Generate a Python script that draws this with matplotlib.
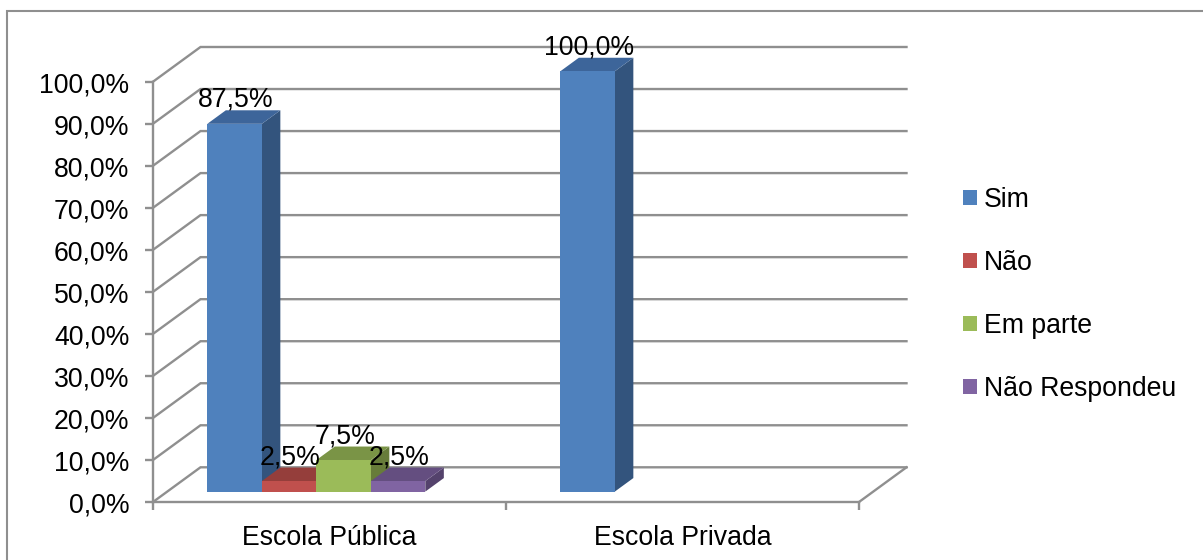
import matplotlib
matplotlib.use("Agg")
import matplotlib.pyplot as plt
import matplotlib.patches as mpatches
import matplotlib.lines as mlines
from matplotlib.transforms import ScaledTranslation

plt.rcParams['font.family'] = ['Liberation Sans', 'DejaVu Sans']

# data
categories = ["Escola Pública", "Escola Privada"]
series_names = ["Sim", "Não", "Em parte", "Não Respondeu"]
sim = [87.5, 100.0]
nao = [2.5, 0]
em_parte = [7.5, 0]
nao_resp = [2.5, 0]
y_ticks = [0, 10, 20, 30, 40, 50, 60, 70, 80, 90, 100]
y_labels = ["0,0%", "10,0%", "20,0%", "30,0%", "40,0%", "50,0%",
            "60,0%", "70,0%", "80,0%", "90,0%", "100,0%"]

# colours: front, side, top
front_cols = ['#4F81BD', '#C0504D', '#9BBB59', '#8064A2']
side_cols = ['#33547D', '#7F3533', '#677C3A', '#54426C']
top_cols = ['#3D659A', '#953E3B', '#7A9446', '#644E80']
grid_col = '#8F8F8F'
font_size = 19.2

W, H = 1203, 560
fig = plt.figure(figsize=(W / 100, H / 100), dpi=100)
# front plane of the fake 3d box
left, right, bottom, top = 153, 859, 502, 81.7
ax = fig.add_axes([left / W, 1 - bottom / H, (right - left) / W, (bottom - top) / H])
ax.set_xlim(0, 2)
ax.set_ylim(0, 100)
ax.patch.set_alpha(0)

# depth of the box in data units
depth_x = 47.5 / 353
depth_y = 34.7 / 4.203
bar_d0 = 0.30
bar_d1 = 0.69
bar_w = 54.5 / 353
bar_gap = 0.1135


def proj(x, y, d):
    return x + d * depth_x, y + d * depth_y


def draw_bar(x, val, i):
    x1 = x + bar_w
    # side
    pts = [proj(x1, 0, bar_d0), proj(x1, 0, bar_d1), proj(x1, val, bar_d1), proj(x1, val, bar_d0)]
    ax.fill(*zip(*pts), color=side_cols[i], lw=0, clip_on=False, zorder=3)
    # top
    pts = [proj(x, val, bar_d0), proj(x1, val, bar_d0), proj(x1, val, bar_d1), proj(x, val, bar_d1)]
    ax.fill(*zip(*pts), color=top_cols[i], lw=0, clip_on=False, zorder=3)
    # front
    pts = [proj(x, 0, bar_d0), proj(x1, 0, bar_d0), proj(x1, val, bar_d0), proj(x, val, bar_d0)]
    ax.fill(*zip(*pts), color=front_cols[i], lw=0, clip_on=False, zorder=3)
    cx, cy = proj(x + bar_w / 2, val, bar_d0)
    ax.annotate(str(val).replace('.', ',') + '%', (cx, cy), xytext=(1, 24),
                textcoords='offset pixels', ha='center', va='center',
                fontsize=font_size, color='black', zorder=5, annotation_clip=False)


# walls and gridlines
for v in y_ticks:
    xs, ys = zip((0, v), proj(0, v, 1), proj(2, v, 1))
    ax.plot(xs, ys, color=grid_col, lw=1.7, clip_on=False, zorder=1, solid_joinstyle='miter')
xs, ys = zip((2, 0), proj(2, 0, 1))
ax.plot(xs, ys, color=grid_col, lw=1.7, clip_on=False, zorder=1)

all_series = [sim, nao, em_parte, nao_resp]
for c in range(len(categories)):
    for i, vals in enumerate(all_series):
        if vals[c] > 0:
            draw_bar(c + bar_gap + i * bar_w, vals[c], i)

# axes
for s in ['top', 'right']:
    ax.spines[s].set_visible(False)
for s in ['left', 'bottom']:
    ax.spines[s].set_color(grid_col)
    ax.spines[s].set_linewidth(1.7)
    ax.spines[s].set_zorder(2)
ax.set_yticks(y_ticks)
ax.set_yticklabels(y_labels, fontsize=font_size)
ax.set_xticks([0, 1, 2])
ax.set_xticklabels([])
ax.set_xticks([0.5, 1.5], minor=True)
ax.set_xticklabels(categories, minor=True, fontsize=font_size)
ax.tick_params(axis='both', which='major', color=grid_col, width=1.7, length=6)
ax.tick_params(axis='y', pad=11)
ax.tick_params(axis='x', which='minor', length=0, pad=16.5)
# y labels sit a bit under their ticks in the original
shift = ScaledTranslation(0, -1 / 100, fig.dpi_scale_trans)
for lab in ax.get_yticklabels():
    lab.set_transform(lab.get_transform() + shift)

# legend
handles = [mpatches.Patch(color=c, label=n, lw=0) for c, n in zip(front_cols, series_names)]
fig.legend(handles=handles, loc='center left', bbox_to_anchor=(963 / W, 1 - 294.5 / H),
           frameon=False, fontsize=font_size, handlelength=0.52, handleheight=0.52,
           handletextpad=0.27, labelspacing=1.39, borderpad=0, borderaxespad=0)

# outer frame: only top and left show in the crop
fig.add_artist(mlines.Line2D([6.5 / W, 6.5 / W, 1], [0, 1 - 10.5 / H, 1 - 10.5 / H],
                             color='#8F8F8F', lw=1.5, solid_joinstyle='miter'))

fig.savefig('out.png', dpi=100)
